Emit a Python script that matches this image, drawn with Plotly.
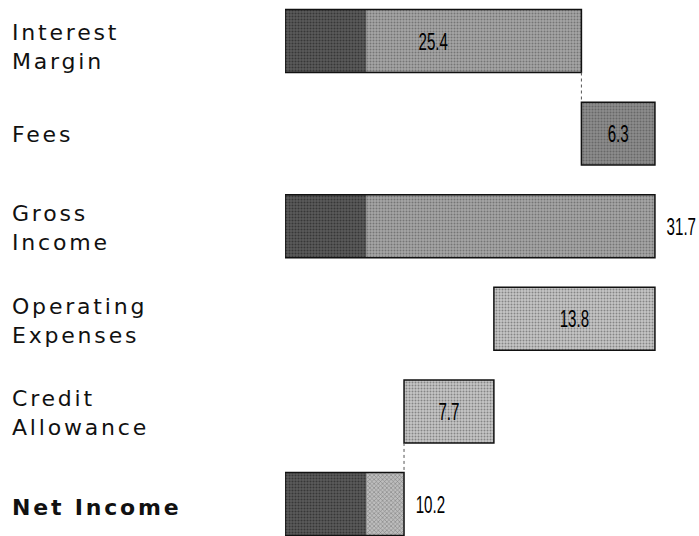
import plotly.graph_objects as go

# Income bridge: each step adds to or takes from the running total
categories = ["Interest Margin", "Fees", "Gross Income",
              "Operating Expenses", "Credit Allowance", "Net Income"]
row_labels = ["Interest<br>Margin", "Fees", "Gross<br>Income",
              "Operating<br>Expenses", "Credit<br>Allowance", "<b>Net Income</b>"]
steps = [25.4, 6.3, 31.7, -13.8, -7.7, 10.2]
measures = ["relative", "relative", "total", "relative", "relative", "total"]
# darker core component shown at the start of the income bars
core = [7.0, 0.0, 7.0, 0.0, 0.0, 7.0]
# rows followed by a dotted connector to the next bar
connect_after = ["Interest Margin", "Credit Allowance"]

# running-total geometry
bases, lengths, ends = [], [], []
running = 0.0
for v, m in zip(steps, measures):
    if m == "total":
        base, running = 0.0, v
    elif v >= 0:
        base = running
        running += v
    else:
        running += v
        base = running
    bases.append(round(base, 2))
    lengths.append(abs(v))
    ends.append(round(running, 2))

BAR_W = 0.68
NUM_FONT = "Liberation Sans, Arial, sans-serif"
LABEL_FONT = "DejaVu Sans, Liberation Sans, Arial, sans-serif"
label_nudge = [-6, -1, -2, -2, -2, -3]

rest_bg = ["#a6a6a6", "#8c8c8c", "#a6a6a6", "#c6c6c6", "#c6c6c6", "#bdbdbd"]
rest_fg = ["#333333", "#1e1e1e", "#333333", "#555555", "#555555", "#4a4a4a"]
rest_shape = [".", ".", ".", ".", ".", "x"]

fig = go.Figure()

# dark core segment
fig.add_trace(go.Bar(
    y=categories, x=core, base=[0.0] * len(core), orientation="h", width=BAR_W,
    marker=dict(color="#5c5c5c", line=dict(width=0),
                pattern=dict(shape=".", fgcolor="#111111", size=3, solidity=0.4,
                             fillmode="overlay")),
    hoverinfo="skip",
))

# remaining part of each bar
fig.add_trace(go.Bar(
    y=categories,
    x=[l - c for l, c in zip(lengths, core)],
    base=[b + c for b, c in zip(bases, core)],
    orientation="h", width=BAR_W,
    marker=dict(color=rest_bg, line=dict(width=0),
                pattern=dict(shape=rest_shape, fgcolor=rest_fg, size=3, solidity=0.35,
                             fillmode="overlay")),
    hoverinfo="skip",
))

# outline of the full bar, carrying the value labels
positions = ["outside" if m == "total" else "inside" for m in measures]
fig.add_trace(go.Bar(
    y=categories, x=lengths, base=bases, orientation="h", width=BAR_W,
    marker=dict(color="rgba(0,0,0,0)", line=dict(color="#111111", width=1.5)),
    text=[f"{v:.1f}" for v in lengths],
    textposition=positions, insidetextanchor="middle",
    textfont=dict(family=NUM_FONT, size=24, color="#000000"),
    cliponaxis=False, hoverinfo="skip",
))

# dotted connectors
for name in connect_after:
    i = categories.index(name)
    fig.add_shape(type="line", xref="x", yref="y",
                  x0=ends[i], x1=ends[i],
                  y0=i + BAR_W / 2, y1=i + 1 - BAR_W / 2,
                  line=dict(color="#555555", width=1, dash="dot"))

# row labels on the left
for name, lab, dy in zip(categories, row_labels, label_nudge):
    fig.add_annotation(
        xref="paper", yref="y", x=-275 / 414, y=name, yshift=dy,
        text=f"<span style='letter-spacing:2.8px'>{lab}</span>",
        showarrow=False, xanchor="left", yanchor="middle", align="left",
        font=dict(family=LABEL_FONT, size=22, color="#111111"),
    )

fig.update_layout(
    width=699, height=536,
    margin=dict(l=285, r=0, t=0, b=0),
    barmode="overlay", showlegend=False,
    paper_bgcolor="white", plot_bgcolor="white",
    xaxis=dict(range=[0, 414 / 11.67], visible=False),
    yaxis=dict(categoryorder="array", categoryarray=categories,
               range=[5.345, -0.443], visible=False),
)

# condensed value labels: scale each number horizontally about its centre
condense = """
var gd = document.getElementById('{plot_id}');
gd.querySelectorAll('text.bartext').forEach(function(t) {
  var b = t.getBBox();
  if (b.width > 0) {
    var cx = b.x + b.width / 2;
    var tr = t.getAttribute('transform') || '';
    t.setAttribute('transform', tr + ' translate(' + cx + ',0) scale(0.63,1) translate(' + (-cx) + ',0)');
  }
});
"""

fig.write_html("out.html", post_script=condense)
